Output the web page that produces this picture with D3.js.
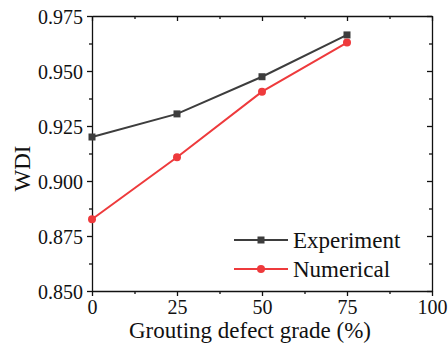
<!DOCTYPE html>
<html>
<head>
<meta charset="utf-8">
<script src="https://cdn.jsdelivr.net/npm/d3@7"></script>
<style>
  body { margin: 0; background: #fff; }
</style>
</head>
<body>
<div id="chart"></div>
<script>
const grades = [0, 25, 50, 75];
const experiment = [0.9200, 0.9305, 0.9474, 0.9664];
const numerical = [0.8826, 0.9108, 0.9406, 0.9629];
const xTicks = [0, 25, 50, 75, 100];
const yTicks = [0.850, 0.875, 0.900, 0.925, 0.950, 0.975];
const seriesNames = ["Experiment", "Numerical"];
const seriesColors = ["#3d3d3d", "#ee3a3c"];

const FONT = "'Liberation Serif'";
const W = 448, H = 347;
const margin = {left: 92, right: 16, top: 16, bottom: 56};
const width = W - margin.left - margin.right;
const height = H - margin.top - margin.bottom;

const svg = d3.select("#chart").append("svg")
  .attr("width", W).attr("height", H);
const g = svg.append("g")
  .attr("transform", "translate(" + margin.left + "," + margin.top + ")");

const x = d3.scaleLinear().domain([0, 100]).range([0, width]);
const y = d3.scaleLinear().domain([0.85, 0.975]).range([height, 0]);

const xMinor = d3.range(12.5, 100, 25);
const yMinor = d3.range(0.8625, 0.975, 0.025);

// bottom axis
const bottom = g.append("g").attr("transform", "translate(0," + height + ")")
  .call(d3.axisBottom(x).tickValues(xTicks).tickSize(5).tickSizeOuter(0).tickPadding(4));
g.append("g").attr("transform", "translate(0," + height + ")")
  .call(d3.axisBottom(x).tickValues(xMinor).tickSize(3).tickFormat("").tickSizeOuter(0))
  .select(".domain").remove();

// left axis
const left = g.append("g")
  .call(d3.axisLeft(y).tickValues(yTicks).tickSize(5).tickSizeOuter(0).tickPadding(4)
    .tickFormat(d3.format(".3f")));
g.append("g")
  .call(d3.axisLeft(y).tickValues(yMinor).tickSize(3).tickFormat("").tickSizeOuter(0))
  .select(".domain").remove();

// top and right mirrors, ticks inward
g.append("g")
  .call(d3.axisBottom(x).tickValues(xTicks).tickSize(5).tickFormat("").tickSizeOuter(0));
g.append("g")
  .call(d3.axisBottom(x).tickValues(xMinor).tickSize(3).tickFormat("").tickSizeOuter(0))
  .select(".domain").remove();
g.append("g").attr("transform", "translate(" + width + ",0)")
  .call(d3.axisLeft(y).tickValues(yTicks).tickSize(5).tickFormat("").tickSizeOuter(0));
g.append("g").attr("transform", "translate(" + width + ",0)")
  .call(d3.axisLeft(y).tickValues(yMinor).tickSize(3).tickFormat("").tickSizeOuter(0))
  .select(".domain").remove();

g.selectAll(".domain, .tick line").attr("stroke", "#111").attr("stroke-width", 1.3);
[bottom, left].forEach(ax => ax.selectAll("text")
  .style("font-family", FONT).style("font-size", "20px").attr("fill", "#111"));
left.selectAll("text").attr("dy", "0.35em");

// axis labels
g.append("text")
  .attr("x", width / 2 - 12).attr("y", height + 47)
  .attr("text-anchor", "middle")
  .style("font-family", FONT).style("font-size", "23px")
  .attr("fill", "#111")
  .text("Grouting defect grade (%)");
g.append("text")
  .attr("transform", "translate(" + (-62) + "," + (height / 2 + 15) + ") rotate(-90)")
  .attr("text-anchor", "middle")
  .style("font-family", FONT).style("font-size", "23px")
  .attr("fill", "#111")
  .text("WDI");

// series
const data = [experiment, numerical];
const line = d3.line().x((d, i) => x(grades[i])).y(d => y(d));

data.forEach((vals, si) => {
  const color = seriesColors[si];
  g.append("path").datum(vals)
    .attr("fill", "none").attr("stroke", color).attr("stroke-width", 2)
    .attr("d", line);
  if (si === 0) {
    g.selectAll(".sq").data(vals).enter().append("rect")
      .attr("x", (d, i) => x(grades[i]) - 3.5).attr("y", d => y(d) - 3.5)
      .attr("width", 7).attr("height", 7).attr("fill", color);
  } else {
    g.selectAll(".ci").data(vals).enter().append("circle")
      .attr("cx", (d, i) => x(grades[i])).attr("cy", d => y(d))
      .attr("r", 4).attr("fill", color);
  }
});

// legend
const legend = g.append("g").attr("transform", "translate(142," + 224 + ")");
seriesNames.forEach((name, i) => {
  const ly = i * 29;
  legend.append("line").attr("x1", 0).attr("x2", 54).attr("y1", ly).attr("y2", ly)
    .attr("stroke", seriesColors[i]).attr("stroke-width", 2);
  if (i === 0) {
    legend.append("rect").attr("x", 27 - 3.5).attr("y", ly - 3.5)
      .attr("width", 7).attr("height", 7).attr("fill", seriesColors[i]);
  } else {
    legend.append("circle").attr("cx", 27).attr("cy", ly).attr("r", 4)
      .attr("fill", seriesColors[i]);
  }
  legend.append("text").attr("x", 59).attr("y", ly + 8)
    .style("font-family", FONT).style("font-size", "23px").attr("fill", "#111")
    .text(name);
});
</script>
</body>
</html>
